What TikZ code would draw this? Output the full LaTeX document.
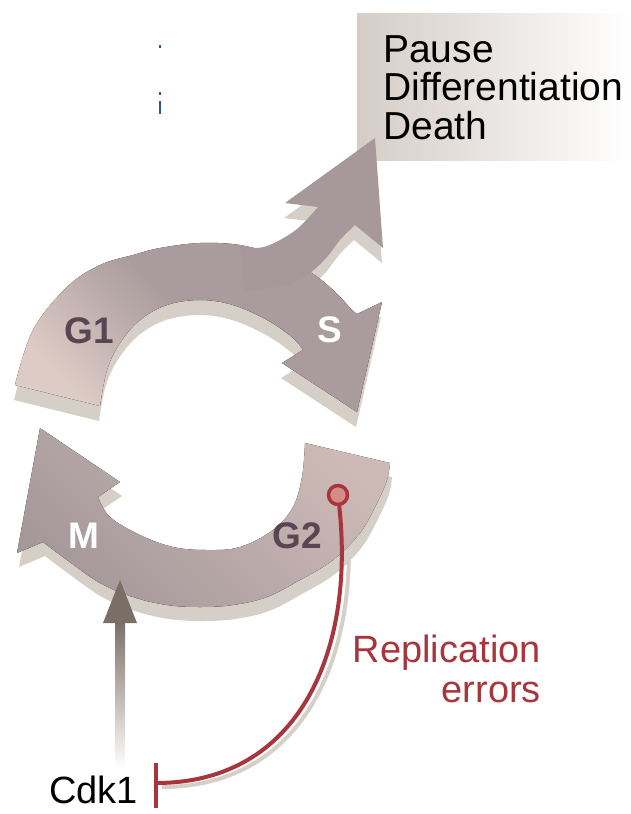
\documentclass[tikz,border=0pt]{standalone}
\usepackage{fontspec}
\setmainfont{Liberation Sans}
\usetikzlibrary{calc}
\definecolor{bandgray}{HTML}{AA9C9E}
\definecolor{bandpink}{HTML}{DDCBC5}
\definecolor{branchc}{HTML}{A7999B}
\definecolor{shadowc}{HTML}{D6CFC7}
\definecolor{lowdark}{HTML}{A5989B}
\definecolor{lowlight}{HTML}{CDBAB6}
\definecolor{textdark}{HTML}{584652}
\definecolor{repred}{HTML}{A8343C}
\definecolor{circfill}{HTML}{D68C86}
\definecolor{arrowbrown}{HTML}{7A6E65}
\definecolor{boxgray}{HTML}{D5CCC6}
\definecolor{markblue}{HTML}{2A5A9A}
\tikzset{
  phase/.style={font=\fontsize{37}{40}\selectfont\bfseries, inner sep=0pt, anchor=base},
  plain/.style={font=\fontsize{38}{40}\selectfont, inner sep=0pt},
  redline/.style={draw=repred, line width=4pt},
  shadowline/.style={draw=shadowc, line width=4pt},
}
\def\upperpath{(15,385) -- plot[smooth, tension=0.6] coordinates {(15,385) (33,330) (67,287) (100,265) (133,255) (160,248) (200,243) (240,245) (275,255) (310,272) (333,290) (352,310)} -- (357,314) -- (382,302) -- (357,412) -- (282,363) -- (303,350) -- plot[smooth, tension=0.6] coordinates {(303,350) (293,338) (267,320) (233,305) (200,300) (167,305) (140,320) (120,343) (107,370) (100,406)} -- cycle}
\def\branchpath{(240,245) -- plot[smooth, tension=0.6] coordinates {(240,245) (255,248) (272,244) (297,229) (318,207)} -- (285,203) -- (375,138) -- (383,248) -- plot[smooth, tension=0.6] coordinates {(355,225) (340,240) (327,257) (310,273) (290,285)} -- (245,292) -- cycle}
\def\lowerpath{(40,428) -- (120,482) -- (98,497) -- plot[smooth, tension=0.6] coordinates {(98,497) (110,517) (140,535) (173,547) (207,550) (240,547) (273,530) (293,507) (302,477) (305,443)} -- (390,463) -- plot[smooth, tension=0.6] coordinates {(390,463) (387,480) (377,503) (360,533) (333,560) (300,580) (267,597) (233,605) (200,607) (167,605) (133,597) (100,583) (67,560) (43,542)} -- (17,553) -- cycle}
\begin{document}
\begin{tikzpicture}[x=1pt,y=-1pt]
\useasboundingbox (0,0) rectangle (631,814);
% outcome box
\fill[left color=boxgray, right color=white] (357,13) rectangle (628,160);
% tiny marks
\fill[markblue] (159,45) rectangle (161,48);
\fill[markblue] (159,92) rectangle (161,95);
\fill[markblue] (159,101) rectangle (161,114);
% named points
\coordinate (bar) at (156,783);
\coordinate (cdktip) at (120,580);
\node[circle, draw=repred, fill=circfill, line width=3.5pt, minimum size=19pt, inner sep=0pt] (rep) at (338,495) {};
% shadows
\fill[shadowc, shift={(-1,15)}] \branchpath;
\fill[shadowc, shift={(-1,15)}] \upperpath;
\fill[shadowc, shift={(2,14)}] \lowerpath;
\draw[shadowline] ($(rep)+(8,6)$) .. controls ($(355,650)+(8,3)$) and ($(300,783)+(5,4)$) .. ($(bar)+(6,4)$);
% bands
\fill[top color=bandgray, bottom color=bandpink, middle color=bandgray, shading angle=-45] \upperpath;
\fill[branchc] \branchpath;
\fill[top color=lowlight, bottom color=lowdark, shading angle=-45] \lowerpath;
% Cdk1 arrow
\fill[top color=arrowbrown, bottom color=white] (115,620) rectangle (125,768);
\fill[arrowbrown] (cdktip) -- (137,623) -- (103,623) -- cycle;
% replication errors inhibition
\draw[redline] (rep) .. controls (355,650) and (300,783) .. (bar);
\draw[redline] ($(bar)+(0,-20)$) -- ($(bar)+(0,25)$);
\node[circle, draw=repred, fill=circfill, line width=3.5pt, minimum size=19pt, inner sep=0pt] at (rep) {};
% texts
\node[plain, font=\fontsize{39}{40}\selectfont, anchor=base west] (pause) at (383,62) {Pause};
\node[plain, font=\fontsize{39}{40}\selectfont, anchor=base west] (diff) at (383,100) {Differentiation};
\node[plain, font=\fontsize{39}{40}\selectfont, anchor=base west] (death) at (383,139) {Death};
\node[phase, text=textdark] (g1) at (89,343) {G1};
\node[phase, text=white] (s) at (330,342) {S};
\node[phase, text=white] (m) at (84,548) {M};
\node[phase, text=textdark] (g2) at (297,548) {G2};
\node[plain, anchor=base east, text=repred] (repl) at (541,662) {Replication};
\node[plain, anchor=base east, text=repred] (errs) at (541,702) {errors};
\node[plain, anchor=base west] (cdk) at (49,803) {Cdk1};
\end{tikzpicture}
\end{document}
